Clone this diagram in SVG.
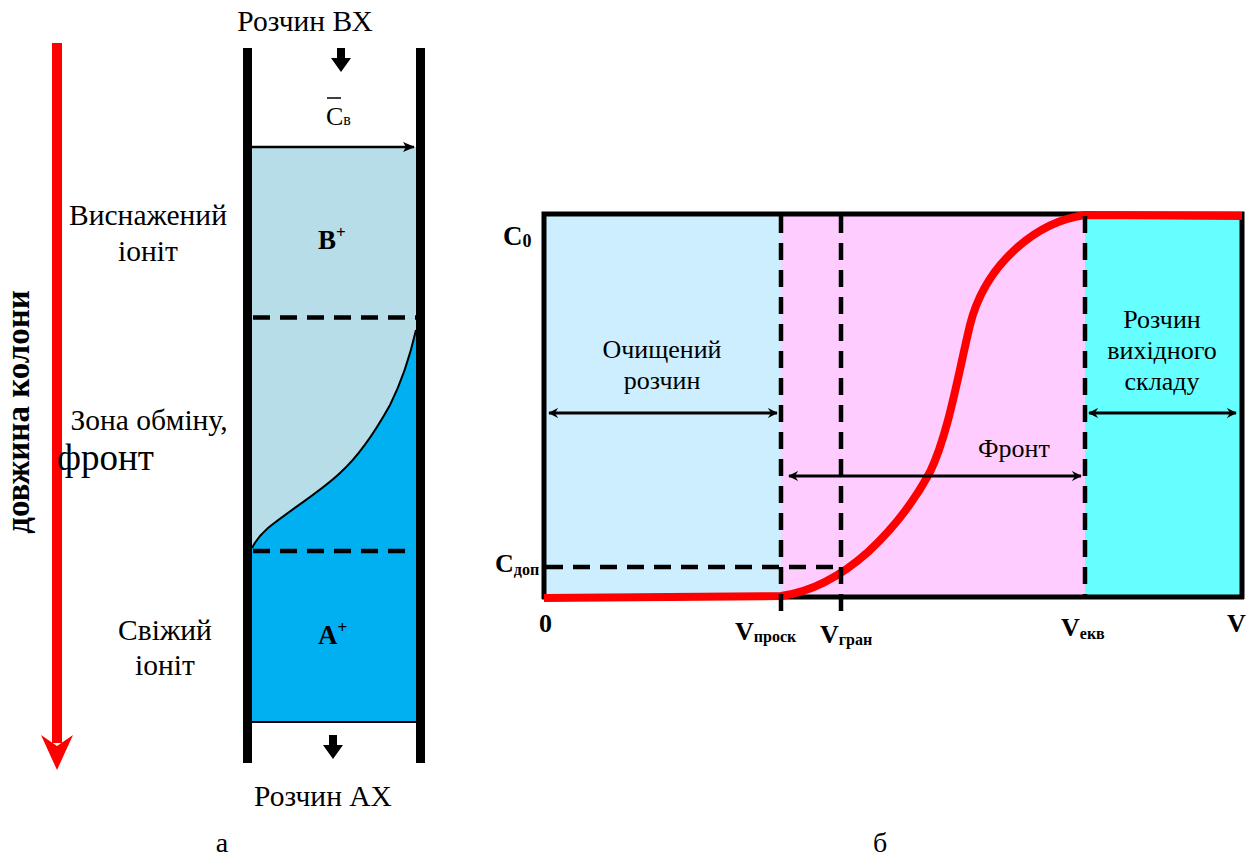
<svg xmlns="http://www.w3.org/2000/svg" width="1252" height="859" viewBox="0 0 1252 859">
<defs>
<style>
.t{fill:#000}
.b{font-weight:bold}
.dash{stroke:#000;stroke-width:4.5;stroke-dasharray:17,10;fill:none}
.wall{stroke:#000;stroke-width:9;fill:none}
.dbl{stroke:#000;stroke-width:3;fill:none;marker-start:url(#ah);marker-end:url(#ah)}
</style>
<marker id="ah" viewBox="0 0 12 12" refX="11" refY="6" markerWidth="10" markerHeight="10" markerUnits="userSpaceOnUse" orient="auto-start-reverse">
<path d="M0,0 L12,6 L0,12 L4,6 Z" fill="#000"/>
</marker>
<marker id="ah2" viewBox="0 0 12 12" refX="11" refY="6" markerWidth="12" markerHeight="12" markerUnits="userSpaceOnUse" orient="auto">
<path d="M0,1 L12,6 L0,11 L3,6 Z" fill="#000"/>
</marker>
</defs>
<rect width="1252" height="859" fill="#fff"/>

<g id="red-axis">
<rect x="52" y="43" width="10" height="700" fill="#f00"/>
<path d="M41,735 L57,746 L73,735 L57,770 Z" fill="#f00"/>
<text class="t b" font-family="Liberation Serif, serif" font-size="33" transform="translate(29,412) rotate(-90)" text-anchor="middle">довжина колони</text>
</g>

<g id="column">
<rect x="252" y="147" width="164" height="575" fill="#00B0F0"/>
<path d="M252,147 L416,147 L416,330 C408,365 400,385 390,405 C375,432 360,455 340,473 C320,492 290,510 268,528 C260,535 255,542 252,548 Z" fill="#B7DDE8"/>
<path d="M416,330 C408,365 400,385 390,405 C375,432 360,455 340,473 C320,492 290,510 268,528 C260,535 255,542 252,548" stroke="#000" stroke-width="2" fill="none"/>
<line x1="252" y1="722" x2="416" y2="722" stroke="#000" stroke-width="2"/>
<line x1="252" y1="147" x2="414" y2="147" stroke="#000" stroke-width="2.5" marker-end="url(#ah2)"/>
<line x1="253" y1="317.5" x2="416" y2="317.5" class="dash" stroke-width="3.5" stroke-dasharray="17,11"/>
<line x1="253" y1="551" x2="410" y2="551" class="dash" stroke-width="3.5" stroke-dasharray="17,11"/>
<line x1="247.5" y1="48" x2="247.5" y2="763" class="wall"/>
<line x1="420.5" y1="48" x2="420.5" y2="763" class="wall"/>
<path d="M337,48 L345,48 L345,58 L351,58 L341,72 L331,58 L337,58 Z" fill="#000"/>
<path d="M329,735 L337,735 L337,745 L343,745 L333,759 L323,745 L329,745 Z" fill="#000"/>
<text class="t" font-family="Liberation Serif, serif" x="305" y="31" font-size="29.5" text-anchor="middle">Розчин ВХ</text>
<text class="t" font-family="Liberation Serif, serif" x="323" y="806" font-size="29.5" text-anchor="middle">Розчин АХ</text>
<line x1="327" y1="98" x2="341" y2="98" stroke="#000" stroke-width="1.5"/>
<text class="t" font-family="Liberation Serif, serif" x="326" y="125" font-size="26">C<tspan font-size="16">в</tspan></text>
<text class="t b" font-family="Liberation Serif, serif" x="318" y="249" font-size="27">B<tspan font-size="17" dy="-11">+</tspan></text>
<text class="t b" font-family="Liberation Serif, serif" x="318" y="644" font-size="27">A<tspan font-size="17" dy="-11">+</tspan></text>
<text class="t" font-family="Liberation Serif, serif" x="148" y="225" font-size="29.5" text-anchor="middle">Виснажений</text>
<text class="t" font-family="Liberation Serif, serif" x="148" y="261" font-size="29.5" text-anchor="middle">іоніт</text>
<text class="t" font-family="Liberation Serif, serif" x="149" y="430" font-size="29.5" text-anchor="middle">Зона обміну,</text>
<text class="t" font-family="Liberation Serif, serif" x="57" y="470" font-size="37">фронт</text>
<text class="t" font-family="Liberation Serif, serif" x="165" y="640" font-size="29.5" text-anchor="middle">Свіжий</text>
<text class="t" font-family="Liberation Serif, serif" x="165" y="675" font-size="29.5" text-anchor="middle">іоніт</text>
<text class="t" font-family="Liberation Serif, serif" x="222" y="852" font-size="28" text-anchor="middle">а</text>
</g>

<g id="chart">
<rect x="544" y="214" width="237" height="383" fill="#CCEEFF"/>
<rect x="781" y="214" width="304" height="383" fill="#FFCCFF"/>
<rect x="1085" y="214" width="157" height="383" fill="#66FFFF"/>
<path d="M544,599 L544,214 L1242,214 L1242,599" stroke="#000" stroke-width="5" fill="none"/>
<line x1="542" y1="597" x2="1244" y2="597" stroke="#000" stroke-width="5"/>
<path d="M544,598 L781,596 C810,592 840,577 868,552 C895,527 915,500 930,472 C948,435 958,375 970,325 C985,265 1035,222 1085,215 L1242,216" stroke="#f00" stroke-width="8" fill="none"/>
<line x1="781" y1="216" x2="781" y2="614" class="dash"/>
<line x1="841" y1="216" x2="841" y2="614" class="dash"/>
<line x1="1085" y1="216" x2="1085" y2="598" class="dash"/>
<line x1="546" y1="567" x2="840" y2="567" class="dash"/>
</g>

<g id="connectors">
<line x1="549" y1="413" x2="777" y2="413" class="dbl"/>
<line x1="789" y1="476" x2="1081" y2="476" class="dbl"/>
<line x1="1089" y1="413" x2="1236" y2="413" class="dbl"/>
</g>

<g id="chart-labels">
<text class="t" font-family="Liberation Serif, serif" x="662" y="358" font-size="26" text-anchor="middle">Очищений</text>
<text class="t" font-family="Liberation Serif, serif" x="662" y="389" font-size="26" text-anchor="middle">розчин</text>
<text class="t" font-family="Liberation Serif, serif" x="1014" y="457" font-size="26" text-anchor="middle">Фронт</text>
<text class="t" font-family="Liberation Serif, serif" x="1162" y="328" font-size="26" text-anchor="middle">Розчин</text>
<text class="t" font-family="Liberation Serif, serif" x="1162" y="359" font-size="26" text-anchor="middle">вихідного</text>
<text class="t" font-family="Liberation Serif, serif" x="1162" y="390" font-size="26" text-anchor="middle">складу</text>
<text class="t b" font-family="Liberation Serif, serif" x="503" y="245" font-size="27">C<tspan font-size="18" dy="2">0</tspan></text>
<text class="t b" font-family="Liberation Serif, serif" x="495" y="572" font-size="26">C<tspan font-size="16" dy="3">доп</tspan></text>
<text class="t b" font-family="Liberation Serif, serif" x="539" y="632" font-size="26">0</text>
<text class="t b" font-family="Liberation Serif, serif" x="735" y="640" font-size="26">V<tspan font-size="16" dy="2">проск</tspan></text>
<text class="t b" font-family="Liberation Serif, serif" x="820" y="643" font-size="26">V<tspan font-size="16" dy="2">гран</tspan></text>
<text class="t b" font-family="Liberation Serif, serif" x="1061" y="636" font-size="26">V<tspan font-size="16" dy="3">екв</tspan></text>
<text class="t b" font-family="Liberation Serif, serif" x="1227" y="632" font-size="26">V</text>
<text class="t" font-family="Liberation Serif, serif" x="880" y="852" font-size="28" text-anchor="middle">б</text>
</g>
</svg>
